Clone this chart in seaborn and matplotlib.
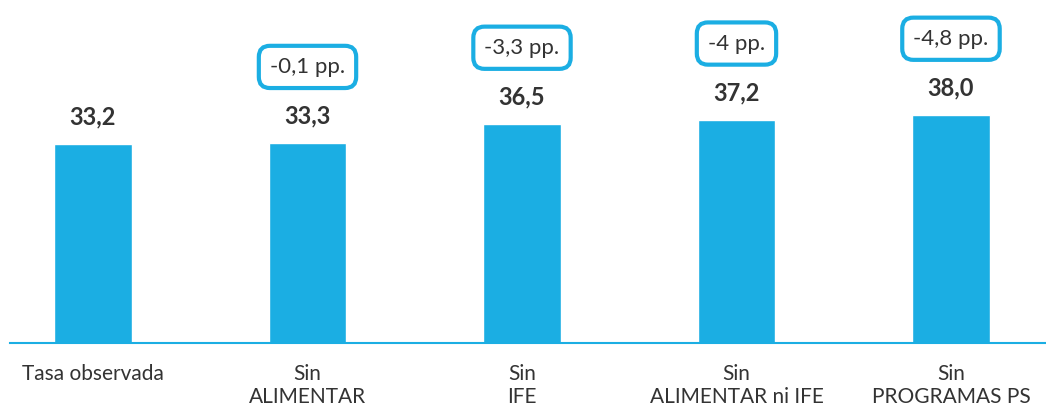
import matplotlib
matplotlib.use('Agg')
import matplotlib.pyplot as plt
import seaborn as sns
import pandas as pd

categories = ['Tasa observada', 'Sin\nALIMENTAR', 'Sin\nIFE', 'Sin\nALIMENTAR ni IFE', 'Sin\nPROGRAMAS PS']
values = [33.2, 33.3, 36.5, 37.2, 38.0]
value_labels = ['33,2', '33,3', '36,5', '37,2', '38,0']
diff_labels = ['', '-0,1 pp.', '-3,3 pp.', '-4 pp.', '-4,8 pp.']

blue = '#1BAEE3'
text_color = '#333333'

sns.set_style('white')
plt.rcParams['font.family'] = ['Lato', 'DejaVu Sans']

df = pd.DataFrame({'cat': categories, 'val': values})

fig = plt.figure(figsize=(10.46, 4.16), dpi=100)
ax = fig.add_axes([10 / 1046, 73 / 416, 1 - 10 / 1046, 1 - 73 / 416])
sns.barplot(data=df, x='cat', y='val', color=blue, width=0.36, saturation=1, ax=ax)

ax.set_xlim(-0.387, 4.443)
ax.set_ylim(0, 57.2)

for i, (v, lab, d) in enumerate(zip(values, value_labels, diff_labels)):
    ax.annotate(lab, (i, v), xytext=(0, 19.5), textcoords='offset points',
                ha='center', va='center', fontsize=17, fontweight='bold', color=text_color)
    if d:
        ax.annotate(d, (i, v), xytext=(0, 55), textcoords='offset points',
                    ha='center', va='center', fontsize=16, color=text_color,
                    bbox=dict(boxstyle='round,pad=0.5,rounding_size=0.5', fc='white', ec=blue, lw=3))

for s in ['top', 'right', 'left']:
    ax.spines[s].set_visible(False)
ax.spines['bottom'].set_color(blue)
ax.spines['bottom'].set_linewidth(1.5)

ax.set_yticks([])
ax.set_xlabel('')
ax.set_ylabel('')
ax.tick_params(axis='x', length=0, pad=15, labelsize=15, labelcolor=text_color)

fig.savefig('out.png', dpi=100)
